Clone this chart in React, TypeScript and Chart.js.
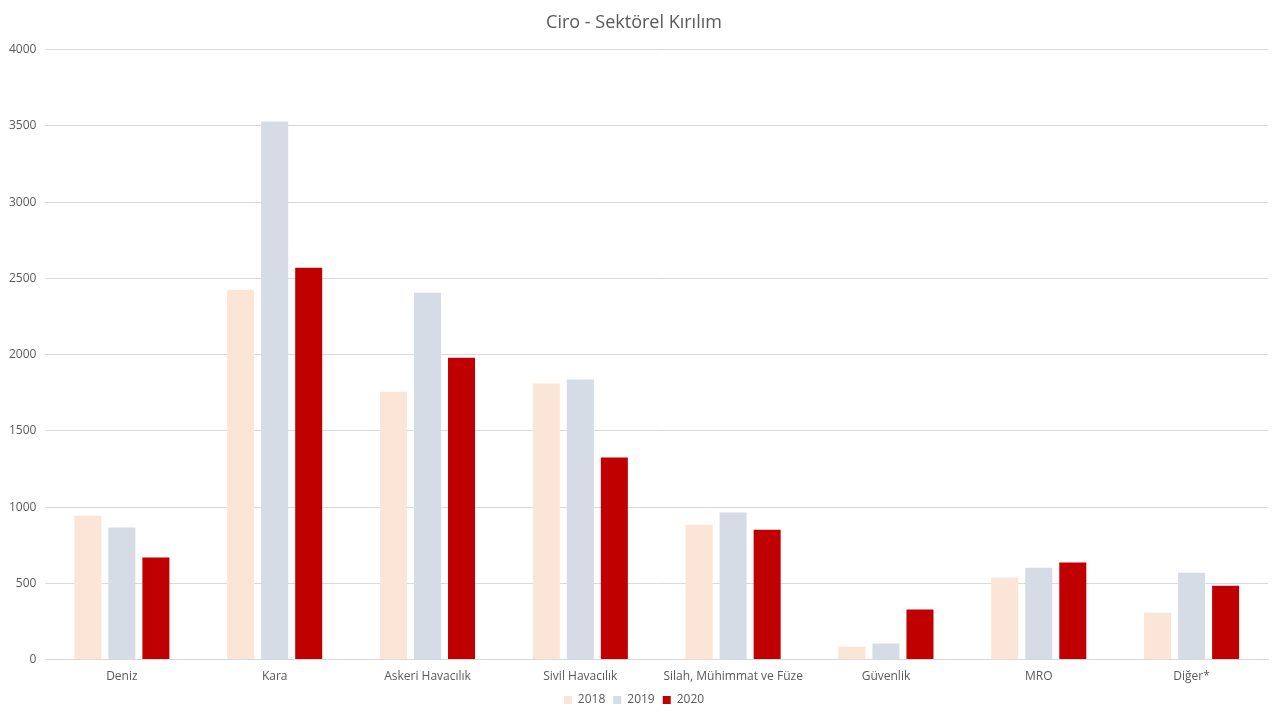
import React, { useEffect, useRef } from "react"
import { Chart, registerables } from "chart.js"

Chart.register(...registerables)

const categories = [
  "Deniz",
  "Kara",
  "Askeri Havacılık",
  "Sivil Havacılık",
  "Silah, Mühimmat ve Füze",
  "Güvenlik",
  "MRO",
  "Diğer*",
]

const values2018 = [944, 2426, 1757, 1810, 885, 85, 538, 308]
const values2019 = [866, 3528, 2406, 1836, 964, 105, 603, 570]
const values2020 = [669, 2570, 1980, 1325, 852, 328, 636, 485]

const FONT = "'Open Sans', 'DejaVu Sans', sans-serif"
const TEXT = "#595959"

export default function App() {
  const canvasRef = useRef<HTMLCanvasElement>(null)

  useEffect(() => {
    document.body.style.margin = "0"
    if (!canvasRef.current) return
    const chart = new Chart(canvasRef.current, {
      type: "bar",
      data: {
        labels: categories,
        datasets: [
          { label: "2018", data: values2018, backgroundColor: "#fbe5d6" },
          { label: "2019", data: values2019, backgroundColor: "#d6dce5" },
          { label: "2020", data: values2020, backgroundColor: "#c00000" },
        ],
      },
      options: {
        animation: false,
        responsive: false,
        categoryPercentage: 0.668,
        barPercentage: 0.794,
        layout: { padding: { left: 0, right: 12, top: 4, bottom: 4 } },
        plugins: {
          title: {
            display: true,
            text: "Ciro - Sektörel Kırılım",
            color: TEXT,
            font: { family: FONT, size: 18, weight: "normal" },
            padding: { top: 8, bottom: 16 },
          },
          legend: {
            position: "bottom",
            labels: {
              color: TEXT,
              font: { family: FONT, size: 12 },
              usePointStyle: true,
              pointStyle: "rect",
              boxWidth: 8,
              boxHeight: 8,
              padding: 8,
            },
          },
          tooltip: { enabled: false },
        },
        scales: {
          x: {
            grid: { display: false },
            border: { color: "#d9d9d9" },
            ticks: { color: TEXT, font: { family: FONT, size: 12 }, padding: 2 },
          },
          y: {
            min: 0,
            max: 4000,
            ticks: {
              stepSize: 500,
              color: TEXT,
              font: { family: FONT, size: 12 },
              padding: 9,
              callback: (v) => String(v),
            },
            grid: { color: "#d9d9d9", drawTicks: false },
            border: { display: false },
          },
        },
      },
    })
    return () => chart.destroy()
  }, [])

  return <canvas ref={canvasRef} width={1280} height={720} style={{ display: "block" }} />
}
